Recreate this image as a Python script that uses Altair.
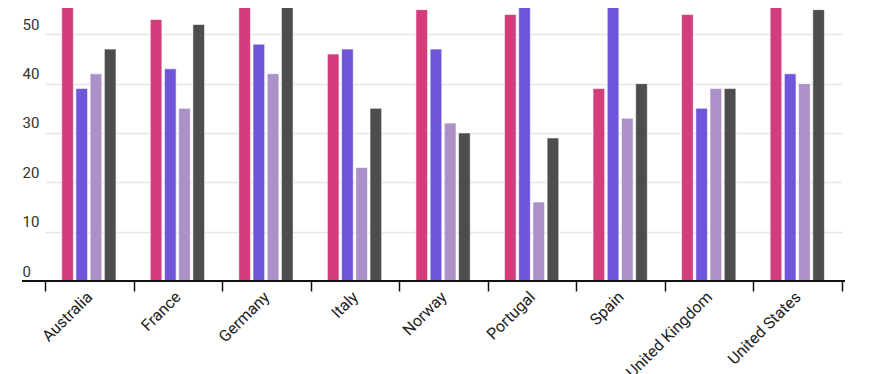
import altair as alt
import pandas as pd

countries = ["Australia", "France", "Germany", "Italy", "Norway", "Portugal",
             "Spain", "United Kingdom", "United States"]
series_names = ["Series 1", "Series 2", "Series 3", "Series 4"]
series_colors = ["#d33d7b", "#6e55d9", "#ab91c7", "#4d4d4d"]
s1 = [62, 53, 56, 46, 55, 54, 39, 54, 60]
s2 = [39, 43, 48, 47, 47, 61, 63, 35, 42]
s3 = [42, 35, 42, 23, 32, 16, 33, 39, 40]
s4 = [47, 52, 56, 35, 30, 29, 40, 39, 55]
y_ticks = [0, 10, 20, 30, 40, 50]

rows = []
for name, vals in zip(series_names, [s1, s2, s3, s4]):
    for c, v in zip(countries, vals):
        rows.append({"country": c, "series": name, "value": v})
df = pd.DataFrame(rows)

W = 823
H = 273
YMAX = 55.33

x_enc = alt.X("country:N", sort=countries, title=None,
              scale=alt.Scale(range=[23, 820], paddingInner=0, paddingOuter=0),
              axis=alt.Axis(labelAngle=-45, labelAlign="right", labelBaseline="middle",
                            labelFont="Roboto", labelFontSize=16, labelColor="#222222",
                            labelPadding=3, tickBand="extent", tickSize=10,
                            tickColor="#111111", tickWidth=1.5, domain=False,
                            grid=False))
y_enc = alt.Y("value:Q", title=None,
              scale=alt.Scale(domain=[0, YMAX], nice=False, zero=True),
              axis=alt.Axis(values=y_ticks, grid=True, gridColor="#e6e6e6",
                            gridWidth=1.5, domain=False, ticks=False, tickSize=0,
                            labelAlign="left", labelBaseline="alphabetic",
                            labelPadding=0, labelOffset=-5, labelFont="Roboto",
                            labelFontSize=15, labelColor="#333333"))

bars = alt.Chart(df).mark_bar(clip=True, stroke="white", strokeWidth=1,
                              strokeOpacity=0.6).encode(
    x=x_enc,
    y=y_enc,
    xOffset=alt.XOffset("series:N", sort=series_names,
                        scale=alt.Scale(range=[16.7, 71], paddingInner=0.18,
                                        paddingOuter=0)),
    color=alt.Color("series:N", sort=series_names,
                    scale=alt.Scale(domain=series_names, range=series_colors),
                    legend=None),
)

baseline = alt.Chart(pd.DataFrame({"v": [0]})).mark_rule(
    color="#111111", strokeWidth=2.2).encode(
    y=alt.Y("v:Q"),
    x=alt.value(0), x2=alt.value(W),
)

chart = alt.layer(bars, baseline).properties(
    width=W, height=H,
    autosize=alt.AutoSizeParams(type="none"),
    padding={"left": 14, "top": 0, "right": 10, "bottom": 93},
).configure_view(stroke=None)

chart.save("out.html", embed_options={"renderer": "svg", "actions": False})
